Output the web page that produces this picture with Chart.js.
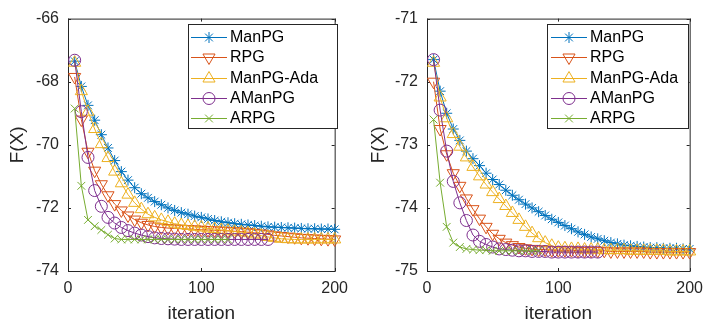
<!DOCTYPE html>
<html>
<head>
<meta charset="utf-8">
<style>
  html, body { margin: 0; padding: 0; background: #fff; }
  #wrap { position: relative; width: 711px; height: 321px; overflow: hidden; }
  canvas { position: absolute; top: 0; }
</style>
</head>
<body>
<div id="wrap">
  <canvas id="chartA" width="356" height="321" style="left:0px"></canvas>
  <canvas id="chartB" width="355" height="321" style="left:356px"></canvas>
</div>
<script src="https://cdn.jsdelivr.net/npm/chart.js@4/dist/chart.umd.min.js"></script>
<script>
// 图例名称
var seriesNames = ['ManPG', 'RPG', 'ManPG-Ada', 'AManPG', 'ARPG']

// 迭代次数 (每5次一个标记)
var iters = [5, 10, 15, 20, 25, 30, 35, 40, 45, 50, 55, 60, 65, 70, 75, 80, 85, 90, 95, 100,
  105, 110, 115, 120, 125, 130, 135, 140, 145, 150, 155, 160, 165, 170, 175, 180, 185, 190, 195, 200]

// 坐标轴刻度
var xTicks = [0, 100, 200]
var yTicksA = [-74, -72, -70, -68, -66]
var yTicksB = [-75, -74, -73, -72, -71]

// 左图数据
var manpgA = [-67.35, -68.15, -68.75, -69.22, -69.68, -70.1, -70.5, -70.85, -71.12, -71.36,
  -71.55, -71.68, -71.8, -71.9, -72.0, -72.08, -72.15, -72.2, -72.26, -72.3,
  -72.35, -72.4, -72.44, -72.47, -72.5, -72.52, -72.54, -72.56, -72.58, -72.6,
  -72.61, -72.62, -72.63, -72.64, -72.65, -72.66, -72.66, -72.67, -72.67, -72.68]
var rpgA = [-67.85, -69.2, -70.22, -70.82, -71.25, -71.6, -71.88, -72.08, -72.24, -72.37,
  -72.47, -72.54, -72.59, -72.62, -72.64, -72.65, -72.66, -72.67, -72.68, -72.69,
  -72.7, -72.71, -72.72, -72.73, -72.74, -72.75, -72.77, -72.79, -72.81, -72.84,
  -72.87, -72.89, -72.91, -72.93, -72.95, -72.96, -72.97, -72.98, -72.99, -73.0]
var adaA = [-67.4, -68.3, -68.95, -69.5, -69.98, -70.42, -70.85, -71.22, -71.58, -71.84,
  -72.04, -72.2, -72.3, -72.38, -72.44, -72.5, -72.54, -72.57, -72.6, -72.62,
  -72.65, -72.67, -72.7, -72.72, -72.75, -72.77, -72.8, -72.84, -72.88, -72.92,
  -72.95, -72.98, -72.99, -73.0, -73.0, -73.0, -73.0, -73.0, -73.0, -73.0]
var amanpgA = [-67.32, -68.95, -70.4, -71.45, -71.95, -72.3, -72.48, -72.62, -72.72, -72.8,
  -72.86, -72.91, -72.95, -72.97, -72.98, -72.99, -73.0, -73.0, -73.0, -73.0,
  -73.0, -73.0, -73.0, -73.0, -73.0, -73.0, -73.0, -73.0, -73.0, -73.0]
var arpgA = [-68.85, -71.3, -72.38, -72.58, -72.7, -72.85, -72.97, -73.0, -73.0, -73.0,
  -73.0, -73.0, -73.0, -73.0, -73.0, -73.0, -73.0, -73.0, -73.0, -73.0,
  -73.0, -73.0, -73.0, -73.0]

// 右图数据
var manpgB = [-71.65, -72.15, -72.5, -72.75, -72.93, -73.1, -73.22, -73.33, -73.45, -73.55,
  -73.63, -73.72, -73.8, -73.87, -73.94, -74.0, -74.06, -74.12, -74.18, -74.23,
  -74.28, -74.33, -74.38, -74.42, -74.46, -74.49, -74.52, -74.55, -74.57, -74.59,
  -74.6, -74.61, -74.62, -74.63, -74.63, -74.64, -74.64, -74.64, -74.65, -74.65]
var rpgB = [-72.0, -72.75, -73.15, -73.45, -73.65, -73.85, -74.02, -74.17, -74.3, -74.41,
  -74.49, -74.55, -74.59, -74.62, -74.64, -74.65, -74.66, -74.66, -74.67, -74.67,
  -74.67, -74.67, -74.68, -74.68, -74.68, -74.68, -74.68, -74.69, -74.69, -74.69,
  -74.69, -74.69, -74.69, -74.7, -74.7, -74.7, -74.7, -74.7, -74.7, -74.7]
var adaB = [-71.7, -72.25, -72.58, -72.83, -73.03, -73.2, -73.35, -73.5, -73.63, -73.75,
  -73.86, -73.97, -74.08, -74.19, -74.3, -74.4, -74.48, -74.55, -74.6, -74.63,
  -74.64, -74.65, -74.65, -74.66, -74.66, -74.66, -74.67, -74.67, -74.67, -74.67,
  -74.68, -74.68, -74.68, -74.68, -74.68, -74.68, -74.69, -74.69, -74.69, -74.69]
var amanpgB = [-71.65, -72.45, -73.1, -73.58, -73.92, -74.2, -74.43, -74.53, -74.58, -74.62,
  -74.65, -74.66, -74.67, -74.68, -74.68, -74.69, -74.69, -74.69, -74.7, -74.7,
  -74.7, -74.7, -74.7, -74.7, -74.7, -74.7]
var arpgB = [-72.6, -73.6, -74.3, -74.55, -74.62, -74.65, -74.66, -74.67, -74.67, -74.68,
  -74.68, -74.68, -74.68, -74.68, -74.68, -74.68, -74.68]

// MATLAB 默认颜色与标记
var colors = ['#0072BD', '#D95319', '#EDB120', '#7E2F8E', '#77AC30']
var markers = ['star', 'triangle', 'triangle', 'circle', 'crossRot']
var rotations = [0, 180, 0, 0, 0]
var radii = [5.5, 7, 7, 6, 5.5]

var axisColor = '#262626'
var fontFamily = '"Liberation Sans", Arial, Helvetica, sans-serif'
Chart.defaults.font.family = fontFamily
Chart.defaults.color = axisColor

// 画坐标框、向内刻度和图例
var matlabPlugin = {
  id: 'matlab',
  beforeDatasetsDraw: function (chart) {
    var a = chart.chartArea
    var c = chart.ctx
    var xs = chart.scales.x
    var ys = chart.scales.y
    var tl = 3
    c.save()
    c.strokeStyle = axisColor
    c.lineWidth = 1
    c.strokeRect(a.left + 0.5, a.top + 0.5, a.right - a.left, a.bottom - a.top)
    c.beginPath()
    xs.ticks.forEach(function (t) {
      var px = Math.round(xs.getPixelForValue(t.value)) + 0.5
      c.moveTo(px, a.bottom); c.lineTo(px, a.bottom - tl)
      c.moveTo(px, a.top); c.lineTo(px, a.top + tl)
    })
    ys.ticks.forEach(function (t) {
      var py = Math.round(ys.getPixelForValue(t.value)) + 0.5
      c.moveTo(a.left, py); c.lineTo(a.left + tl, py)
      c.moveTo(a.right, py); c.lineTo(a.right - tl, py)
    })
    c.stroke()
    c.restore()
  },
  afterDatasetsDraw: function (chart, args, opts) {
    var lg = opts.legend
    var c = chart.ctx
    c.save()
    c.fillStyle = '#fff'
    c.fillRect(lg.x, lg.y, lg.w, lg.h)
    c.strokeStyle = axisColor
    c.lineWidth = 1
    c.strokeRect(lg.x + 0.5, lg.y + 0.5, lg.w, lg.h)
    c.font = '16px ' + fontFamily
    c.textBaseline = 'middle'
    c.textAlign = 'left'
    chart.data.datasets.forEach(function (ds, i) {
      var y = Math.round(lg.rowTop + i * lg.rowStep) + 0.5
      c.strokeStyle = ds.borderColor
      c.lineWidth = 1
      c.beginPath()
      c.moveTo(lg.lineX0, y)
      c.lineTo(lg.lineX1, y)
      c.stroke()
      c.fillStyle = 'rgba(0,0,0,0)'
      Chart.helpers.drawPoint(c, {
        pointStyle: ds.pointStyle,
        rotation: ds.pointRotation,
        radius: ds.pointRadius,
        borderWidth: 1
      }, (lg.lineX0 + lg.lineX1) / 2, y)
      c.fillStyle = '#000'
      c.fillText(ds.label, lg.textX, y)
    })
    c.restore()
  }
}

function pairs(vals) {
  return vals.map(function (v, i) { return { x: iters[i], y: v } })
}

function makeChart(id, seriesList, yTicks, p) {
  var datasets = seriesList.map(function (vals, i) {
    return {
      label: seriesNames[i],
      data: pairs(vals),
      borderColor: colors[i],
      backgroundColor: 'rgba(0,0,0,0)',
      borderWidth: 1,
      pointStyle: markers[i],
      pointRotation: rotations[i],
      pointRadius: radii[i],
      pointHoverRadius: radii[i],
      pointBorderColor: colors[i],
      pointBackgroundColor: 'rgba(0,0,0,0)',
      pointBorderWidth: 1,
      tension: 0,
      fill: false,
      clip: false,
      order: seriesList.length - i
    }
  })
  return new Chart(document.getElementById(id).getContext('2d'), {
    type: 'line',
    data: { datasets: datasets },
    plugins: [matlabPlugin],
    options: {
      responsive: false,
      animation: false,
      events: [],
      layout: { padding: { left: 0, top: 16, right: p.padRight, bottom: 0 } },
      plugins: {
        legend: { display: false },
        tooltip: { enabled: false },
        matlab: { legend: p.legend }
      },
      scales: {
        x: {
          type: 'linear',
          min: xTicks[0],
          max: xTicks[xTicks.length - 1],
          ticks: { stepSize: xTicks[1] - xTicks[0], padding: 8, maxRotation: 0, font: { size: 16 } },
          grid: { display: false, drawTicks: false },
          border: { display: false },
          title: { display: true, text: 'iteration', font: { size: 19, lineHeight: 0.8 }, padding: { top: 0, bottom: 0 } },
          afterFit: function (s) { s.height = 50 }
        },
        y: {
          type: 'linear',
          min: yTicks[0],
          max: yTicks[yTicks.length - 1],
          ticks: { stepSize: yTicks[1] - yTicks[0], padding: 9, font: { size: 16 } },
          grid: { display: false, drawTicks: false },
          border: { display: false },
          title: { display: true, text: 'F(X)', font: { size: 19, lineHeight: 1 }, padding: { top: p.titlePad, bottom: 0 } },
          afterFit: function (s) { s.width = p.axisLeft }
        }
      }
    }
  })
}

makeChart('chartA', [manpgA, rpgA, adaA, amanpgA, arpgA], yTicksA, {
  axisLeft: 68,
  padRight: 18,
  titlePad: 8,
  legend: { x: 188, y: 24, w: 149, h: 104, lineX0: 191, lineX1: 227, textX: 230, rowTop: 37, rowStep: 20.3 }
})

makeChart('chartB', [manpgB, rpgB, adaB, amanpgB, arpgB], yTicksB, {
  axisLeft: 71,
  padRight: 13,
  titlePad: 13,
  legend: { x: 191, y: 24, w: 141, h: 104, lineX0: 195, lineX1: 231, textX: 234, rowTop: 37, rowStep: 20.3 }
})
</script>
</body>
</html>
